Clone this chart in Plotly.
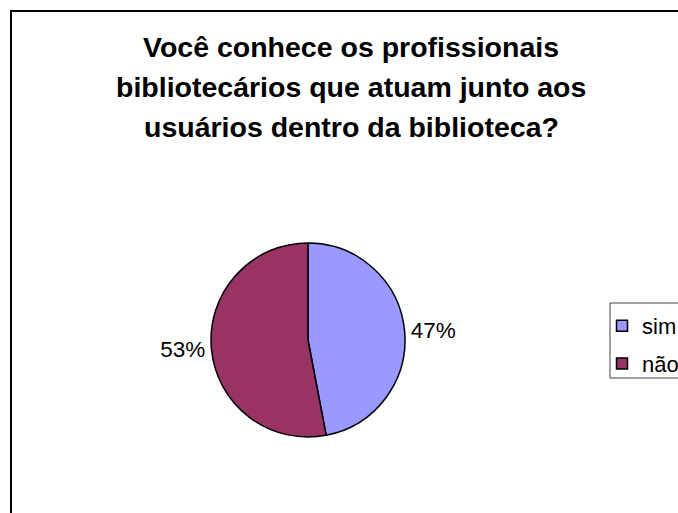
import plotly.graph_objects as go

title_lines = ["Você conhece os profissionais",
               "bibliotecários que atuam junto aos",
               "usuários dentro da biblioteca?"]
categories = ["sim", "não"]
values = [47, 53]
colors = ["#9999FF", "#993366"]

W, H = 678, 513
FONT = "Liberation Sans, Arial, sans-serif"

fig = go.Figure()

# pie
cx, cy, r = 308, 340, 97
fig.add_trace(go.Pie(
    labels=categories, values=values, sort=False, direction="clockwise",
    rotation=0,
    marker=dict(colors=colors, line=dict(color="black", width=1.5)),
    texttemplate="%{percent:.0%}", textposition="outside",
    outsidetextfont=dict(family=FONT, size=22.5, color="black"),
    showlegend=False, hoverinfo="label+percent",
    domain=dict(x=[(cx - r) / W, (cx + r) / W],
                y=[(H - cy - r) / H, (H - cy + r) / H]),
))

# legend entries
for i, (c, col) in enumerate(zip(categories, colors)):
    fig.add_trace(go.Scatter(
        x=[None], y=[None], mode="markers", name=c, legendgroup=c,
        marker=dict(symbol="square", size=11, color=col,
                    line=dict(color="black", width=1.5)),
    ))

# title lines
for i, t in enumerate(title_lines):
    fig.add_annotation(
        text="<b>%s</b>" % t, x=351 / W, y=1 - (47.5 + 40 * i) / H,
        xref="paper", yref="paper", showarrow=False,
        xanchor="center", yanchor="middle",
        font=dict(family=FONT, size=28.5, color="black"),
    )

# chart border
fig.add_shape(type="rect", xref="paper", yref="paper",
              x0=11 / W, x1=1.2, y0=-0.2, y1=1 - 11 / H,
              line=dict(color="black", width=2), fillcolor="rgba(0,0,0,0)")
# legend box
fig.add_shape(type="rect", xref="paper", yref="paper",
              x0=610 / W, x1=1.1, y0=1 - 378 / H, y1=1 - 303 / H,
              line=dict(color="#444444", width=1), fillcolor="white",
              layer="below")

fig.update_layout(
    width=W, height=H,
    margin=dict(l=0, r=0, t=0, b=0, autoexpand=False),
    paper_bgcolor="white", plot_bgcolor="white",
    xaxis=dict(visible=False), yaxis=dict(visible=False),
    legend=dict(x=602 / W, y=1 - 305 / H, xanchor="left", yanchor="top",
                borderwidth=0, bgcolor="rgba(0,0,0,0)",
                font=dict(family=FONT, size=22, color="black"),
                traceorder="grouped", tracegroupgap=6, itemwidth=30),
    font=dict(family=FONT),
)

fig.write_html("out.html", config={"displayModeBar": False},
               post_script="document.body.style.margin='0';document.body.style.overflow='hidden';")
